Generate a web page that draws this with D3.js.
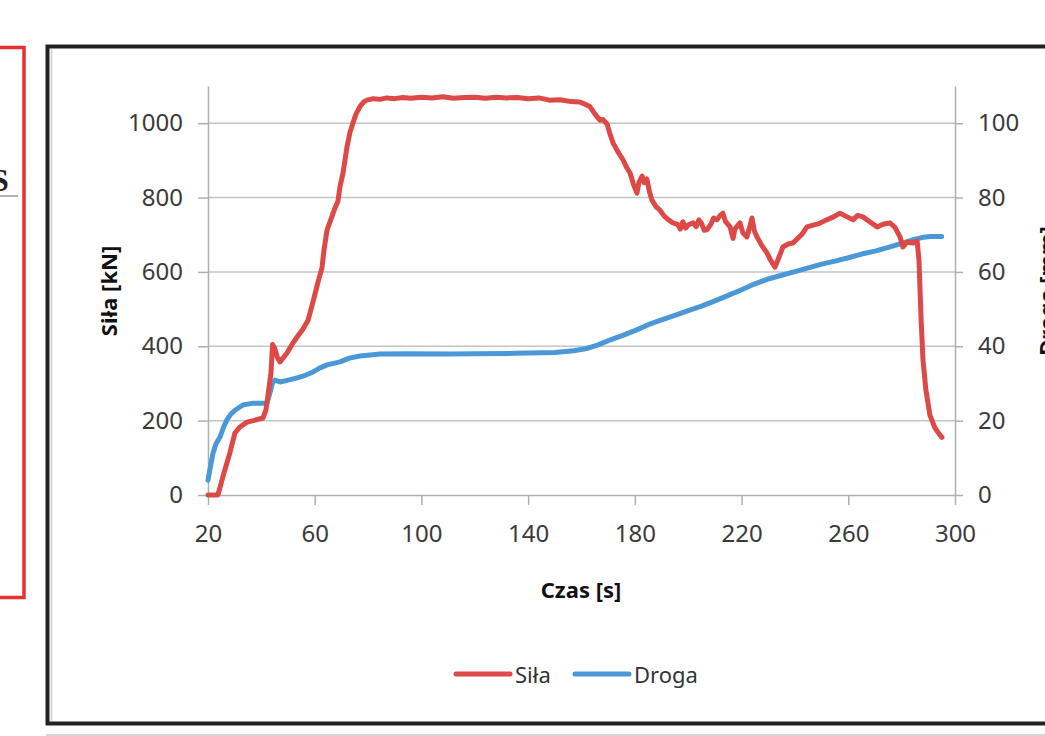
<!DOCTYPE html>
<meta charset="utf-8">
<style>
body { margin: 0; background: #fff; }
svg { display: block; font-family: "Noto Sans", "Open Sans", sans-serif; }
.grid line { stroke: #c4c4c4; stroke-width: 1.5; }
.axis path, .axis line { stroke: #b0b0b0; stroke-width: 1.5; }
.axis text { fill: #3a3a3a; font-size: 24px; font-family: "Noto Sans", sans-serif; }
.title { fill: #111; font-size: 22px; font-weight: bold; }
</style>
<svg width="1045" height="736"></svg>
<script src="https://d3js.org/d3.v7.min.js"></script>
<script>

// czas [s] / sila [kN]
var silaT = [20, 23.7, 24.5, 26, 28.2, 30.1, 32, 34.6, 37, 40.6, 41.7, 42.9, 43.6, 44.2, 45, 46, 47, 48.3, 49.6, 51.5,
  53.4, 55.5, 57.5, 59, 60.1, 61.5, 62.7, 63.5, 64.6, 66, 67.5, 68.7, 69.5, 70.6, 72.1, 73.2, 74.3, 75.5, 77, 78.5,
  79.6, 82, 84.5, 87, 90, 93, 96, 100, 104, 108, 112, 116, 120, 124, 128, 132, 136, 140, 144, 148,
  152, 156, 159.4, 161, 163.2, 165, 166.9, 168, 169.6, 170.5, 171.8, 173.5, 175.6, 177, 178.2, 179.5, 180.8, 181.5, 182.7, 183.5,
  184.5, 185.5, 186.4, 188, 189.4, 191, 193, 194.3, 196, 197, 198, 199, 200, 201.8, 203, 204, 205, 206, 207, 208.5, 209.5, 210.8, 212, 213,
  214, 215.7, 216.8, 217.5, 219.4, 220.5, 222, 223.2, 223.9, 224.8, 225.8, 227.5, 229.5, 231, 232.5, 233.5, 235.5, 237.5, 239.3, 241,
  242.5, 244.5, 246.8, 249, 252, 254.5, 256.9, 259, 261.8, 263.5, 265.5, 268, 270.8, 273, 275.6, 277.5, 279.4, 280.5, 282, 284.3,
  285.8, 286.5, 287.3, 288, 289.1, 290.6, 292.5, 294, 295.1];
var silaF = [0, 0, 20, 60, 113, 167, 183, 196, 200, 207, 228, 290, 328, 405, 395, 370, 358, 370, 382, 405,
  425, 445, 470, 510, 540, 580, 610, 660, 712, 740, 770, 790, 830, 866, 936, 975, 1000, 1025, 1045, 1058,
  1062, 1066, 1064, 1068, 1066, 1069, 1067, 1070, 1068, 1071, 1067, 1069, 1070, 1067, 1070, 1068, 1069, 1066, 1068, 1062,
  1063, 1058, 1057, 1052, 1044, 1025, 1008, 1010, 998, 975, 947, 925, 901, 880, 866, 835, 812, 840, 858, 840,
  850, 815, 793, 775, 766, 750, 738, 732, 728, 715, 735, 718, 726, 732, 722, 740, 730, 712, 713, 728, 745, 740, 752, 758,
  735, 721, 690, 715, 732, 705, 694, 725, 745, 710, 694, 672, 651, 630, 613, 630, 667, 675, 678, 690,
  700, 721, 726, 730, 740, 748, 758, 750, 740, 752, 748, 735, 721, 728, 732, 720, 694, 667, 680, 678,
  683, 632, 471, 363, 282, 215, 180, 165, 155];

// czas [s] / droga [mm]
var drogaT = [20, 21, 21.9, 23, 24.5, 26, 27.1, 28.5, 30.1, 33.1, 36.9, 42.1, 43.2, 44.2, 45.1, 47, 50, 53.4, 56.5, 59.4,
  62, 64.6, 69.5, 73, 77, 84.5, 95, 110, 120, 135, 150, 157, 162, 166, 170, 175, 180, 185, 190, 195,
  200, 205, 210, 215, 220, 225, 230, 235, 240, 245, 250, 255, 260, 265, 270, 275, 280, 285, 288, 291, 295];
var drogaD = [4, 8, 11.3, 13.8, 15.6, 18.5, 20.2, 21.7, 22.8, 24.2, 24.7, 24.7, 27.4, 30.2, 30.9, 30.4, 30.9, 31.5, 32.2, 33.1,
  34.2, 35, 35.8, 36.8, 37.4, 37.9, 38, 37.9, 38, 38.1, 38.3, 38.8, 39.4, 40.3, 41.5, 42.8, 44.2, 45.8, 47.1, 48.3,
  49.6, 50.8, 52.2, 53.7, 55.2, 56.8, 58.1, 59.1, 60.1, 61.1, 62.1, 62.9, 63.8, 64.8, 65.6, 66.6, 67.7, 68.8, 69.3, 69.5, 69.5];

var xTicks = [20, 60, 100, 140, 180, 220, 260, 300];
var yLeftTicks = [0, 200, 400, 600, 800, 1000];
var yRightTicks = [0, 20, 40, 60, 80, 100];
var seriesNames = ["Siła", "Droga"];
var colors = ["#dc4946", "#4a98d8"];

var svg = d3.select("svg");

// ramki dookola
svg.append("rect")
    .attr("x", -20).attr("y", 47.5)
    .attr("width", 44).attr("height", 550)
    .attr("fill", "none").attr("stroke", "#e5312f").attr("stroke-width", 3.5);
svg.append("text")
    .attr("x", -9).attr("y", 191)
    .attr("font-size", 32).attr("font-weight", "bold").attr("font-family", "Liberation Serif, serif")
    .attr("fill", "#222").text("S");
svg.append("line")
    .attr("x1", 0).attr("x2", 18).attr("y1", 196).attr("y2", 196)
    .attr("stroke", "#999").attr("stroke-width", 1.5);

svg.append("rect")
    .attr("x", 47.5).attr("y", 46.5)
    .attr("width", 1100).attr("height", 677)
    .attr("fill", "none").attr("stroke", "#222").attr("stroke-width", 4);
svg.append("line")
    .attr("x1", 51.5).attr("x2", 51.5).attr("y1", 49).attr("y2", 721)
    .attr("stroke", "#ccc").attr("stroke-width", 1.5);
svg.append("line")
    .attr("x1", 46).attr("x2", 1045).attr("y1", 735).attr("y2", 735)
    .attr("stroke", "#c8c8c8").attr("stroke-width", 1.5);

var x = d3.scaleLinear().domain([20, 300]).range([208, 955]);
var yL = d3.scaleLinear().domain([0, 1100]).range([495, 86]);
var yR = d3.scaleLinear().domain([0, 110]).range([495, 86]);

svg.append("g")
    .attr("class", "grid")
  .selectAll("line")
  .data(yLeftTicks.slice(1))
  .enter().append("line")
    .attr("x1", 208).attr("x2", 955)
    .attr("y1", function(d) { return yL(d); })
    .attr("y2", function(d) { return yL(d); });

svg.append("g")
    .attr("class", "axis")
    .attr("transform", "translate(0,495)")
    .call(d3.axisBottom(x).tickValues(xTicks).tickSize(10).tickSizeOuter(0).tickPadding(20).tickFormat(d3.format("d")));

svg.append("g")
    .attr("class", "axis")
    .attr("transform", "translate(208,0)")
    .call(d3.axisLeft(yL).tickValues(yLeftTicks).tickSize(10).tickSizeOuter(0).tickPadding(15).tickFormat(d3.format("d")));

svg.append("g")
    .attr("class", "axis")
    .attr("transform", "translate(955,0)")
    .call(d3.axisRight(yR).tickValues(yRightTicks).tickSize(8).tickSizeOuter(0).tickPadding(15).tickFormat(d3.format("d")));

var silaData = silaT.map(function(t, i) { return [t, silaF[i]]; });
var drogaData = drogaT.map(function(t, i) { return [t, drogaD[i]]; });

var lineL = d3.line().x(function(d) { return x(d[0]); }).y(function(d) { return yL(d[1]); });
var lineR = d3.line().x(function(d) { return x(d[0]); }).y(function(d) { return yR(d[1]); });

svg.append("path")
    .datum(drogaData)
    .attr("d", lineR)
    .attr("fill", "none").attr("stroke", colors[1]).attr("stroke-width", 5)
    .attr("stroke-linejoin", "round").attr("stroke-linecap", "round");

svg.append("path")
    .datum(silaData)
    .attr("d", lineL)
    .attr("fill", "none").attr("stroke", colors[0]).attr("stroke-width", 5)
    .attr("stroke-linejoin", "round").attr("stroke-linecap", "round");

// tytuly osi
svg.append("text")
    .attr("class", "title")
    .attr("transform", "translate(117,291) rotate(-90)")
    .attr("text-anchor", "middle")
    .text("Siła [kN]");
svg.append("text")
    .attr("class", "title")
    .attr("transform", "translate(1055,291) rotate(-90)")
    .attr("text-anchor", "middle")
    .text("Droga [mm]");
svg.append("text")
    .attr("class", "title")
    .attr("x", 581).attr("y", 598)
    .attr("text-anchor", "middle")
    .text("Czas [s]");

// legenda
var legendX = [456, 575];
var legend = svg.append("g").selectAll("g")
  .data(seriesNames)
  .enter().append("g")
    .attr("transform", function(d, i) { return "translate(" + legendX[i] + ",674)"; });
legend.append("line")
    .attr("x1", 0).attr("x2", 54)
    .attr("stroke", function(d, i) { return colors[i]; })
    .attr("stroke-width", 5).attr("stroke-linecap", "round");
legend.append("text")
    .attr("x", 59).attr("y", 9)
    .attr("font-size", 22).attr("fill", "#333")
    .text(function(d) { return d; });

</script>
